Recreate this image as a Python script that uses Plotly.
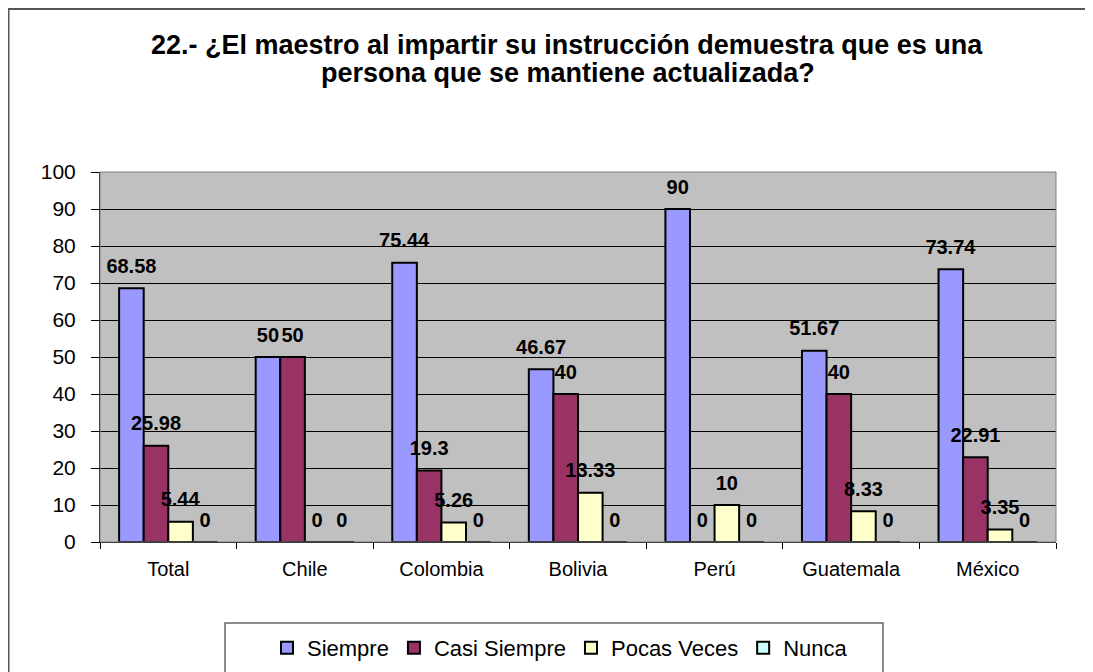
import plotly.graph_objects as go

categories = ["Total", "Chile", "Colombia", "Bolivia", "Perú", "Guatemala", "México"]
siempre = [68.58, 50, 75.44, 46.67, 90, 51.67, 73.74]
casi_siempre = [25.98, 50, 19.3, 40, 0, 40, 22.91]
pocas_veces = [5.44, 0, 5.26, 13.33, 10, 8.33, 3.35]
nunca = [0, 0, 0, 0, 0, 0, 0]

series_names = ["Siempre", "Casi Siempre", "Pocas Veces", "Nunca"]
series_values = [siempre, casi_siempre, pocas_veces, nunca]
series_colors = ["#9999FF", "#993366", "#FFFFCC", "#CCFFFF"]

title_line1 = "22.- ¿El maestro al impartir su instrucción demuestra que es una"
title_line2 = "persona que se mantiene actualizada?"

FONT = "Arial, Liberation Sans, sans-serif"

# the page body has an 8px margin; positions below are in page pixels
OFF = 8

fig = go.Figure()
for name, vals, col in zip(series_names, series_values, series_colors):
    fig.add_trace(go.Bar(
        x=categories, y=vals, name=name,
        marker=dict(color=col, line=dict(color="black", width=2)),
        text=[f"<span style='font-size:20px'><b>{v:g}</b></span><br>\u00a0" for v in vals],
        textposition="outside",
        constraintext="none",
        cliponaxis=False,
        textfont=dict(family=FONT, size=8, color="black"),
    ))

W, H = 1093, 672
# desired page-pixel plot area: left 100, top 172, right 1056, bottom 542
L = 100 - OFF
T = 172 - OFF
R = W - (1056 - OFF)
B = H - (542 - OFF)
pw, ph = W - L - R, H - T - B

def px(x):
    return (x - OFF - L) / pw

def py(y):
    return (H - B - (y - OFF)) / ph

shapes = [
    # outer chart border
    dict(type="rect", xref="paper", yref="paper",
         x0=px(8.5), x1=px(1110), y0=py(700), y1=py(9),
         line=dict(color="#555555", width=2), fillcolor="rgba(0,0,0,0)", layer="below"),
    # plot area border
    dict(type="rect", xref="paper", yref="paper", x0=0, x1=1, y0=0, y1=1,
         line=dict(color="#808080", width=1), fillcolor="rgba(0,0,0,0)"),
    # legend box
    dict(type="rect", xref="paper", yref="paper",
         x0=px(225), x1=px(883), y0=py(700), y1=py(623),
         line=dict(color="#666666", width=1.5), fillcolor="white"),
]

annotations = [
    dict(text=f"<b>{title_line1}</b>", xref="paper", yref="paper",
         x=px(567), y=py(45), showarrow=False, xanchor="center", yanchor="middle",
         font=dict(family=FONT, size=27, color="black")),
    dict(text=f"<b>{title_line2}</b>", xref="paper", yref="paper",
         x=px(568), y=py(73), showarrow=False, xanchor="center", yanchor="middle",
         font=dict(family=FONT, size=27, color="black")),
]

fig.update_layout(
    width=W, height=H,
    margin=dict(l=L, r=R, t=T, b=B, autoexpand=False),
    paper_bgcolor="white",
    plot_bgcolor="#C0C0C0",
    font=dict(family=FONT, color="black"),
    barmode="group",
    bargap=0.28,
    bargroupgap=0,
    showlegend=True,
    legend=dict(
        orientation="h",
        xref="container", yref="container",
        x=(560 - OFF) / W, xanchor="center",
        y=1 - (648 - OFF) / H, yanchor="middle",
        bgcolor="rgba(0,0,0,0)", borderwidth=0,
        font=dict(family=FONT, size=22, color="black"),
        traceorder="normal",
    ),
    shapes=shapes,
    annotations=annotations,
    xaxis=dict(
        tickson="boundaries", ticks="outside", ticklen=6, tickcolor="black",
        showline=True, linecolor="black", linewidth=1,
        tickfont=dict(family=FONT, size=20, color="black"),
        ticklabelstandoff=9,
        showgrid=False,
    ),
    yaxis=dict(
        range=[0, 100], dtick=10, tick0=0,
        ticks="outside", ticklen=8, tickcolor="black",
        showline=True, linecolor="black", linewidth=1,
        showgrid=True, gridcolor="black", gridwidth=1,
        zeroline=False,
        tickfont=dict(family=FONT, size=21, color="black"),
        ticklabelstandoff=11,
    ),
)

fig.write_html("out.html")
